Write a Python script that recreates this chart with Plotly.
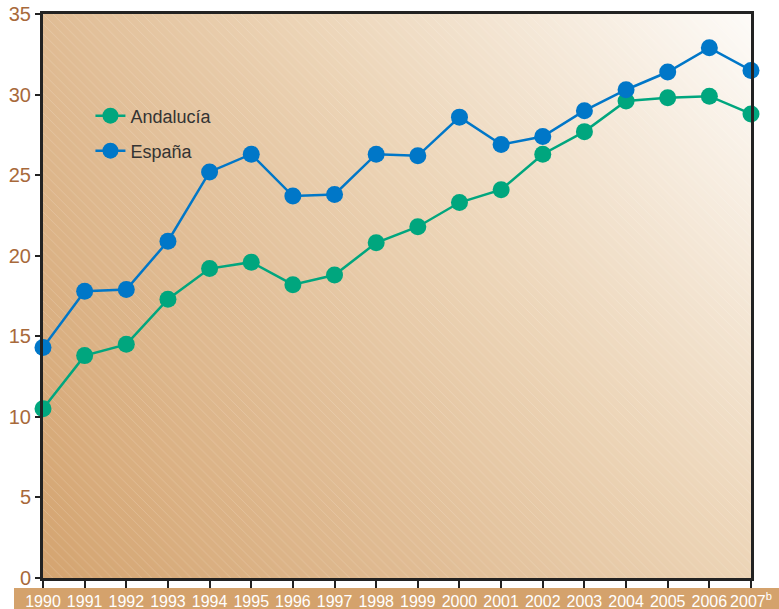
import plotly.graph_objects as go

# Data
years = list(range(1990, 2008))
year_labels = [str(y) for y in years[:-1]] + ["2007<sup>b</sup>"]
andalucia = [10.5, 13.8, 14.5, 17.3, 19.2, 19.6, 18.2, 18.8, 20.8, 21.8,
             23.3, 24.1, 26.3, 27.7, 29.6, 29.8, 29.9, 28.8]
espana = [14.3, 17.8, 17.9, 20.9, 25.2, 26.3, 23.7, 23.8, 26.3, 26.2,
          28.6, 26.9, 27.4, 29.0, 30.3, 31.4, 32.9, 31.5]

y_max = 35
green = "#00A67E"
blue = "#0077C8"
brown = "#A8693A"
band = "#D4A26C"
font = "Liberation Sans, Arial, sans-serif"

fig = go.Figure()

# background gradient (tan bottom-left -> cream top-right)
fig.add_trace(go.Heatmap(
    x=[years[0], years[-1]], y=[0, y_max],
    z=[[0, 0.55], [0.3, 1]],
    zsmooth="best", showscale=False, hoverinfo="skip",
    colorscale=[[0, "rgb(212,164,112)"], [0.3, "rgb(224,188,148)"],
                [0.55, "rgb(236,212,182)"], [1, "rgb(253,251,248)"]],
))

# fine diagonal hatching
fig.add_trace(go.Scatter(
    x=[years[0], years[-1], years[-1], years[0], years[0]],
    y=[0, 0, y_max, y_max, 0],
    fill="toself", mode="none", fillcolor="rgba(0,0,0,0)",
    fillpattern=dict(shape="\\", fgcolor="white", fgopacity=0.2,
                     bgcolor="rgba(0,0,0,0)", size=7, solidity=0.12),
    hoverinfo="skip", showlegend=False,
))

fig.add_trace(go.Scatter(
    x=years, y=andalucia, name="Andalucía", mode="lines+markers",
    line=dict(color=green, width=2.5), marker=dict(size=17, color=green),
    cliponaxis=False, legend="legend",
))
fig.add_trace(go.Scatter(
    x=years, y=espana, name="España", mode="lines+markers",
    line=dict(color=blue, width=2.5), marker=dict(size=17, color=blue),
    cliponaxis=False, legend="legend2",
))

# tan band behind the year labels
W, H = 779, 609
l, r, t, b = 43, 28, 14, 31
pw, ph = W - l - r, H - t - b
fig.add_shape(type="rect", xref="paper", yref="paper",
              x0=(14 - l) / pw, x1=(W - l) / pw,
              y0=-b / ph, y1=-10 / ph,
              fillcolor=band, line_width=0, layer="below")

leg = dict(bgcolor="rgba(0,0,0,0)", borderwidth=0, xanchor="left", yanchor="middle",
           font=dict(family=font, size=18, color="#333333"))

fig.update_layout(
    width=W, height=H,
    margin=dict(l=l, r=r, t=t, b=b, autoexpand=False),
    paper_bgcolor="white", plot_bgcolor="rgba(0,0,0,0)",
    font=dict(family=font),
    legend=dict(leg, x=0.067, y=(H - b - 116) / ph),
    legend2=dict(leg, x=0.067, y=(H - b - 151) / ph),
    xaxis=dict(
        range=[years[0], years[-1]], tickvals=years, ticktext=year_labels,
        showgrid=False, zeroline=False, automargin=False,
        showline=True, linecolor="#222222", linewidth=3, mirror=True,
        ticks="outside", ticklen=7, tickwidth=2, tickcolor="#222222",
        ticklabelstandoff=0,
        tickfont=dict(family=font, size=16, color="white"),
    ),
    yaxis=dict(
        range=[0, y_max], dtick=5, automargin=False,
        showgrid=True, gridcolor="#3a3a3a", gridwidth=1.5, zeroline=False,
        showline=True, linecolor="#222222", linewidth=3, mirror=True,
        ticks="outside", ticklen=5, tickwidth=2, tickcolor="#222222",
        tickfont=dict(family=font, size=20, color=brown),
    ),
)

fig.write_html("out.html", config={"displayModeBar": False},
               post_script="document.body.style.margin='0';")
